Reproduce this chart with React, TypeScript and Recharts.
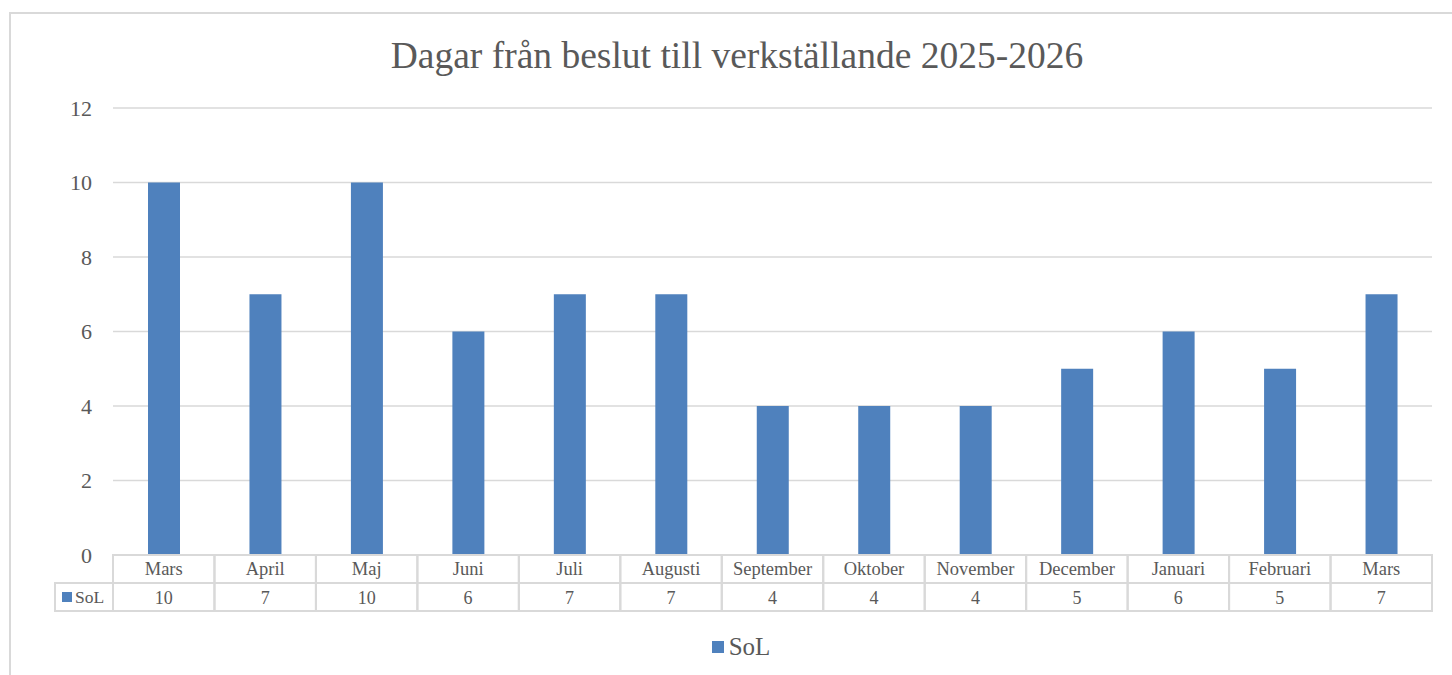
import React from 'react';
import { BarChart, Bar, XAxis, YAxis, CartesianGrid, Legend } from 'recharts';

const title = 'Dagar från beslut till verkställande 2025-2026';
const seriesName = 'SoL';
const months = [
  'Mars', 'April', 'Maj', 'Juni', 'Juli', 'Augusti', 'September',
  'Oktober', 'November', 'December', 'Januari', 'Februari', 'Mars',
];
const solValues = [10, 7, 10, 6, 7, 7, 4, 4, 4, 5, 6, 5, 7];
const yTicks = [0, 2, 4, 6, 8, 10, 12];

const data = months.map((m, i) => ({ month: m, SoL: solValues[i] }));

const FONT = '"Liberation Serif", "Times New Roman", serif';
const TEXT = '#595959';
const GRID = '#d9d9d9';
const BAR = '#4F81BD';

// x-axis tick that draws one column of the data table
function TableTick(props: any) {
  const { x, y, payload, index, width, visibleTicksCount } = props;
  const cw = width / visibleTicksCount;
  const rowH = 28;
  const left = x - cw / 2;
  const value = solValues[index];
  return (
    <g>
      <rect x={left} y={y} width={cw} height={rowH} fill="none" stroke={GRID} strokeWidth={2} />
      <rect x={left} y={y + rowH} width={cw} height={rowH} fill="none" stroke={GRID} strokeWidth={2} />
      <text x={x} y={y + 20} textAnchor="middle" fontSize={18.5} fontFamily={FONT} fill={TEXT}>
        {payload.value}
      </text>
      <text x={x} y={y + rowH + 21} textAnchor="middle" fontSize={18} fontFamily={FONT} fill={TEXT}>
        {value}
      </text>
      {index === 0 && (
        <g>
          <rect x={left - 58} y={y + rowH} width={58} height={rowH} fill="none" stroke={GRID} strokeWidth={2} />
          <rect x={left - 51} y={y + rowH + 9} width={10} height={10} fill={BAR} />
          <text x={left - 38} y={y + rowH + 20} fontSize={17.5} fontFamily={FONT} fill={TEXT}>
            {seriesName}
          </text>
        </g>
      )}
    </g>
  );
}

function LegendContent() {
  return (
    <div style={{ display: 'flex', justifyContent: 'center', alignItems: 'center', fontFamily: FONT, color: TEXT }}>
      <span style={{ width: 12, height: 12, background: BAR, marginRight: 5, display: 'inline-block' }} />
      <span style={{ fontSize: 25 }}>{seriesName}</span>
    </div>
  );
}

export default function App() {
  return (
    <div style={{ position: 'absolute', left: 0, top: 0, width: 1452, height: 675, overflow: 'hidden', background: '#fff' }}>
      <div
        style={{
          position: 'absolute', left: 9, top: 12, width: 1480, height: 700,
          border: `2px solid ${GRID}`, boxSizing: 'border-box',
        }}
      />
      <div
        style={{
          position: 'absolute', left: 0, top: 34, width: 1474, textAlign: 'center',
          fontFamily: FONT, fontSize: 37.5, color: TEXT,
        }}
      >
        {title}
      </div>
      <div style={{ position: 'absolute', left: 0, top: 0 }}>
        <BarChart width={1452} height={675} data={data} margin={{ top: 108, right: 20, bottom: 63, left: 53 }}>
          <CartesianGrid vertical={false} stroke={GRID} strokeWidth={1.5} />
          <XAxis
            dataKey="month"
            height={57}
            axisLine={false}
            tickLine={false}
            tickSize={0}
            tickMargin={0}
            interval={0}
            tick={<TableTick />}
          />
          <YAxis
            width={60}
            domain={[0, 12]}
            ticks={yTicks}
            axisLine={false}
            tickLine={false}
            tickSize={0}
            tickMargin={21}
            tick={{ fontSize: 22, fill: TEXT, fontFamily: FONT }}
          />
          <Legend
            layout="horizontal"
            verticalAlign="middle"
            align="center"
            content={<LegendContent />}
            wrapperStyle={{ top: 633, left: 0, width: 1482 }}
          />
          <Bar dataKey="SoL" fill={BAR} barSize={32} isAnimationActive={false} />
        </BarChart>
      </div>
    </div>
  );
}
